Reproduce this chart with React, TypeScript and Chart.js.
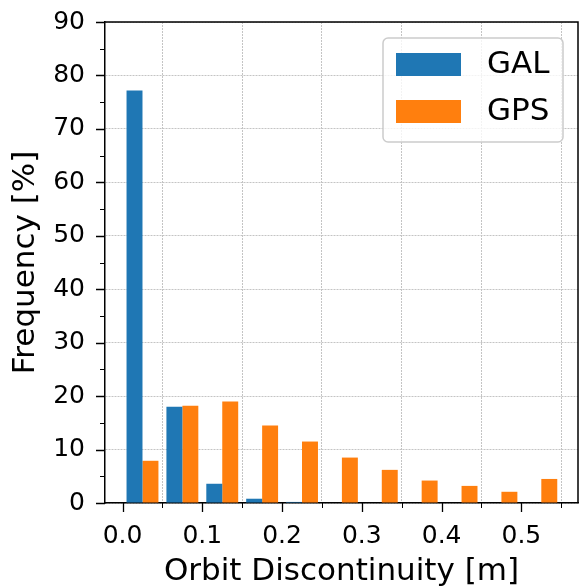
import React, { useEffect, useRef } from "react";
import { Chart, registerables } from "chart.js";

Chart.register(...registerables);

const binCenters = [0.025, 0.075, 0.125, 0.175, 0.225, 0.275, 0.325, 0.375, 0.425, 0.475, 0.525];
const galValues = [77.2, 18.0, 3.6, 0.8, 0.2, 0, 0, 0, 0, 0, 0];
const gpsValues = [7.9, 18.2, 19.0, 14.5, 11.5, 8.5, 6.2, 4.2, 3.2, 2.1, 4.5];
const seriesLabels = ["GAL", "GPS"];
const seriesColors = ["#1f77b4", "#ff7f0e"];
const xMajorTicks = [0.0, 0.1, 0.2, 0.3, 0.4, 0.5];
const xMinorTicks = [0.05, 0.15, 0.25, 0.35, 0.45, 0.55];
const yMajorTicks = [0, 10, 20, 30, 40, 50, 60, 70, 80, 90];
const yMinorTicks = [5, 15, 25, 35, 45, 55, 65, 75, 85];
const xTitle = "Orbit Discontinuity [m]";
const yTitle = "Frequency [%]";

const FONT = "'DejaVu Sans', Verdana, sans-serif";

const framePlugin = {
  id: "frame",
  afterDraw(chart: any) {
    const { ctx, chartArea } = chart;
    const xs = chart.scales.x;
    const ys = chart.scales.y;
    ctx.save();
    ctx.strokeStyle = "#000";
    // top and right spines
    ctx.lineWidth = 1.5;
    ctx.beginPath();
    ctx.moveTo(chartArea.left, chartArea.top);
    ctx.lineTo(chartArea.right, chartArea.top);
    ctx.lineTo(chartArea.right, chartArea.bottom);
    ctx.stroke();
    // major ticks
    ctx.lineWidth = 1.3;
    ctx.beginPath();
    xMajorTicks.forEach((v) => {
      const px = Math.round(xs.getPixelForValue(v)) + 0.5;
      ctx.moveTo(px, chartArea.bottom);
      ctx.lineTo(px, chartArea.bottom + 9);
    });
    yMajorTicks.forEach((v) => {
      const py = Math.round(ys.getPixelForValue(v)) + 0.5;
      ctx.moveTo(chartArea.left, py);
      ctx.lineTo(chartArea.left - 9, py);
    });
    ctx.stroke();
    // minor ticks
    ctx.lineWidth = 1;
    ctx.beginPath();
    xMinorTicks.forEach((v) => {
      const px = Math.round(xs.getPixelForValue(v)) + 0.5;
      ctx.moveTo(px, chartArea.bottom);
      ctx.lineTo(px, chartArea.bottom + 5);
    });
    yMinorTicks.forEach((v) => {
      const py = Math.round(ys.getPixelForValue(v)) + 0.5;
      ctx.moveTo(chartArea.left, py);
      ctx.lineTo(chartArea.left - 5, py);
    });
    ctx.stroke();

    // legend
    const bx = chartArea.right - 195;
    const by = chartArea.top + 16;
    const bw = 180;
    const bh = 104;
    const r = 5;
    ctx.beginPath();
    ctx.moveTo(bx + r, by);
    ctx.lineTo(bx + bw - r, by);
    ctx.arcTo(bx + bw, by, bx + bw, by + r, r);
    ctx.lineTo(bx + bw, by + bh - r);
    ctx.arcTo(bx + bw, by + bh, bx + bw - r, by + bh, r);
    ctx.lineTo(bx + r, by + bh);
    ctx.arcTo(bx, by + bh, bx, by + bh - r, r);
    ctx.lineTo(bx, by + r);
    ctx.arcTo(bx, by, bx + r, by, r);
    ctx.closePath();
    ctx.fillStyle = "rgba(255,255,255,0.8)";
    ctx.fill();
    ctx.strokeStyle = "#cccccc";
    ctx.lineWidth = 1.5;
    ctx.stroke();
    ctx.font = `31px ${FONT}`;
    ctx.textBaseline = "middle";
    ctx.textAlign = "left";
    chart.data.datasets.forEach((ds: any, i: number) => {
      const rowY = by + 15 + i * 47;
      ctx.fillStyle = ds.backgroundColor;
      ctx.fillRect(bx + 13, rowY, 65, 23);
      ctx.fillStyle = "#000";
      ctx.fillText(ds.label, bx + 104, rowY + 12);
    });
    ctx.restore();
  },
};

export default function App() {
  const ref = useRef<HTMLCanvasElement | null>(null);
  useEffect(() => {
    if (!ref.current) return;
    const chart = new Chart(ref.current, {
      type: "bar",
      data: {
        datasets: [galValues, gpsValues].map((vals, i) => ({
          label: seriesLabels[i],
          data: binCenters.map((x, j) => ({ x, y: vals[j] })),
          backgroundColor: seriesColors[i],
          borderWidth: 0,
          categoryPercentage: 0.8,
          barPercentage: 1.0,
        })),
      },
      options: {
        animation: false,
        responsive: false,
        devicePixelRatio: 1,
        layout: { padding: { left: 0, top: 22, right: 1, bottom: 0 } },
        plugins: { legend: { display: false }, tooltip: { enabled: false } },
        scales: {
          x: {
            type: "linear",
            offset: false,
            min: -0.022,
            max: 0.571,
            afterBuildTicks: (s: any) => {
              s.ticks = xMajorTicks.map((v) => ({ value: v }));
            },
            afterFit: (s: any) => {
              s.height = 84;
              s.paddingLeft = 0;
              s.paddingRight = 0;
              s.paddingTop = 0;
              s.paddingBottom = 0;
            },
            ticks: {
              padding: 18,
              color: "#000",
              font: { family: FONT, size: 25 },
              maxRotation: 0,
              autoSkip: false,
              callback: (v: any) => Number(v).toFixed(1),
            },
            grid: { color: "#c4c4c4", lineWidth: 1, drawTicks: false },
            border: { display: true, color: "#000", width: 1.5, dash: [2, 1] },
            title: {
              display: true,
              text: xTitle,
              color: "#000",
              font: { family: FONT, size: 31 },
              padding: { top: 0, bottom: -3.6 },
            },
          },
          y: {
            type: "linear",
            min: 0,
            max: 90,
            afterBuildTicks: (s: any) => {
              s.ticks = yMajorTicks.map((v) => ({ value: v }));
            },
            afterFit: (s: any) => {
              s.width = 105;
              s.paddingLeft = 0;
              s.paddingRight = 0;
              s.paddingTop = 0;
              s.paddingBottom = 0;
            },
            ticks: {
              padding: 20,
              color: "#000",
              font: { family: FONT, size: 25 },
              autoSkip: false,
            },
            grid: { color: "#c4c4c4", lineWidth: 1, drawTicks: false },
            border: { display: true, color: "#000", width: 1.5, dash: [2, 1] },
            title: {
              display: true,
              text: yTitle,
              color: "#000",
              font: { family: FONT, size: 31 },
              padding: { top: 7.4, bottom: 0 },
            },
          },
        },
      },
      plugins: [framePlugin],
    } as any);
    return () => chart.destroy();
  }, []);
  return (
    <div style={{ position: "fixed", left: 0, top: 0, width: 579, height: 587, background: "#fff" }}>
      <canvas ref={ref} width={579} height={587} style={{ display: "block" }} />
    </div>
  );
}
